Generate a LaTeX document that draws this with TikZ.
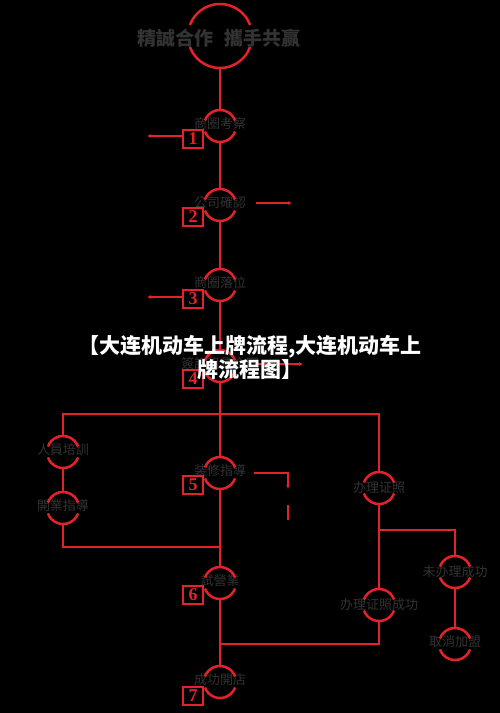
\documentclass[tikz,border=0pt]{standalone}
\usepackage{fontspec}
\setmainfont{Liberation Serif}
\newfontfamily\cjk{Noto Sans CJK TC}
\newfontfamily\cjksc{Noto Sans CJK SC}
\usetikzlibrary{arrows.meta}
\definecolor{brand}{HTML}{E3222B}
\definecolor{labelgray}{HTML}{333333}
\tikzset{
	redline/.style={draw=brand, line width=2.5pt},
	thinline/.style={draw=brand, line width=1.3pt},
	tip/.style={-{Latex[length=4pt,width=4pt]}},
	ring/.style={circle, minimum size=32pt, inner sep=0pt},
	lbl/.style={text=labelgray, font=\cjk\fontsize{13}{13}\selectfont, inner sep=0pt},
	numbox/.style={draw=brand, line width=1.6pt, minimum width=20pt, minimum height=18pt, inner sep=0pt, text=brand, font=\bfseries\fontsize{18}{18}\selectfont},
}

\begin{document}
\begin{tikzpicture}[x=1pt,y=-1pt]
	\fill[black] (0,0) rectangle (500,713);
	\useasboundingbox (0,0) rectangle (500,713);

	% top ring
	\node[circle, minimum size=64pt, inner sep=0pt] (top) at (220,36) {};

	% main steps
	\node[ring, label={[lbl, yshift=2pt]center:商圈考察}] (s1) at (220,126) {};
	\node[ring, label={[lbl, yshift=2pt]center:公司確認}] (s2) at (220,205) {};
	\node[ring, label={[lbl, yshift=2pt]center:商圈落位}] (s3) at (220,285) {};
	\node[ring, label={[lbl, yshift=2pt]center:簽訂租賃合同}] (s4) at (220,366) {};
	\node[ring, label={[lbl, yshift=2pt]center:装修指導}] (s5) at (220,473) {};
	\node[ring, label={[lbl, yshift=2pt]center:試營業}] (s6) at (220,583) {};
	\node[ring, label={[lbl, yshift=2pt]center:成功開店}] (s7) at (220,682) {};

	% side branches
	\node[ring, label={[lbl, yshift=2pt]center:人員培訓}] (l1) at (63,452) {};
	\node[ring, label={[lbl, yshift=2pt]center:開業指導}] (l2) at (63,508) {};
	\node[ring, label={[lbl]center:办理证照}] (r1) at (379,488) {};
	\node[ring, label={[lbl]center:办理证照成功}] (r2) at (379,605) {};
	\node[ring, label={[lbl]center:未办理成功}] (u1) at (455,572) {};
	\node[ring, label={[lbl, yshift=2pt]center:取消加盟}] (u2) at (455,644) {};

	% number boxes
	\node[numbox] (n1) at (193,139) {1};
	\node[numbox] (n2) at (193,217) {2};
	\node[numbox] (n3) at (193,299) {3};
	\node[numbox] (n4) at (193,379) {4};
	\node[numbox] (n5) at (193,485) {5};
	\node[numbox] (n6) at (193,595) {6};
	\node[numbox] (n7) at (193,696) {7};

	\coordinate (fl) at (63,414);
	\coordinate (fr) at (379,414);
	\coordinate (jl) at (220,547);
	\coordinate (jr) at (379,530);
	\coordinate (jb) at (220,644);

	% main line
	\draw[redline] (top.south) -- (s1.north);
	\foreach \a/\b in {s1/s2,s2/s3,s3/s4,s4/s5,s5/s6,s6/s7}
		\draw[redline] (\a.south) -- (\b.north);

	% frame and branches
	\draw[redline] (l1.north) -- (fl) -- (fr) -- (r1.north);
	\draw[redline] (l1.south) -- (l2.north);
	\draw[redline] (l2.south) |- (jl);
	\draw[redline] (r1.south) -- (r2.north);
	\draw[redline] (r2.south) |- (jb);
	\draw[redline] (jr) -| (u1.north);
	\draw[redline] (u1.south) -- (u2.north);

	% rings with gaps
	\draw[redline] ([shift={(20:32)}]top.center) arc (20:160:32)
		([shift={(200:32)}]top.center) arc (200:340:32);
	\foreach \n in {s1,s2,s3,s4,s5,s6,s7,l1,l2,r1,r2,u1,u2}
		\draw[redline] ([shift={(20:16)}]\n.center) arc (20:160:16)
			([shift={(200:16)}]\n.center) arc (200:340:16);

	% small arrows
	\coordinate (e1) at (147,136);
	\coordinate (b2) at (256,203);
	\coordinate (e2) at (292,203);
	\coordinate (e3) at (147,297);
	\coordinate (b4) at (256,364);
	\coordinate (e4) at (303,364);
	\coordinate (b5) at (254,473);
	\coordinate (e5) at (288,489);
	\coordinate (c5) at (288,505);
	\coordinate (d5) at (288,520);
	\draw[thinline, tip] (e1 -| n1.west) -- (e1);
	\draw[thinline, tip] (b2) -- (e2);
	\draw[thinline, tip] (e3 -| n3.west) -- (e3);
	\draw[thinline, tip] (b4) -- (e4);
	\draw[thinline, tip] (b5) -| (e5);
	\draw[thinline] (c5) -- (d5);

	% slogan and title
	\node[lbl, font=\cjk\bfseries\fontsize{19}{19}\selectfont] (slogan) at (219,38) {精誠合作\hspace{12pt}攜手共赢};
	\node[text=white, font=\cjksc\bfseries\fontsize{21}{24}\selectfont, align=center, inner sep=0pt] (title) at (250,357) {【大连机动车上牌流程,大连机动车上\\牌流程图】};
\end{tikzpicture}
\end{document}
